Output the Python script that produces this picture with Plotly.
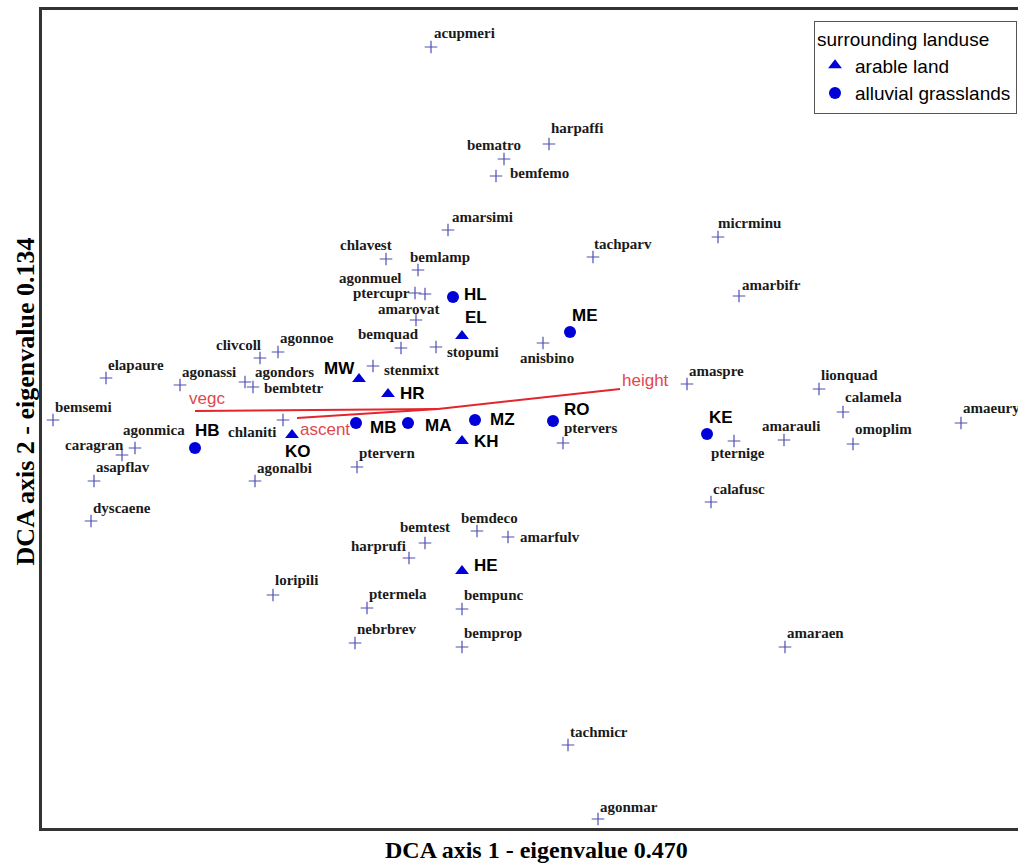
import plotly.graph_objects as go

# ---------------- data (DCA scores, x100 units) ----------------
species = ["acupmeri", "harpaffi", "bematro", "bemfemo", "amarsimi", "chlavest", "bemlamp",
           "tachparv", "micrminu", "amarbifr", "agonmuel", "ptercupr", "amarovat", "bemquad",
           "stopumi", "agonnoe", "clivcoll", "agonassi", "agondors", "bembtetr", "stenmixt",
           "chlaniti", "elapaure", "bemsemi", "agonmica", "caragran", "asapflav", "dyscaene",
           "agonalbi", "loripili", "anisbino", "ptervern", "ptervers", "bemtest", "bemdeco",
           "amarfulv", "harprufi", "ptermela", "bempunc", "nebrbrev", "bemprop", "tachmicr",
           "agonmar", "amaraen", "amaspre", "lionquad", "calamela", "amaeury", "pternige",
           "amarauli", "omoplim", "calafusc"]
species_x = [389, 507, 462, 454, 406, 344, 376, 551, 676, 697, 383, 373, 374, 359,
             394, 236, 218, 138, 203, 211, 331, 241, 64, 11, 93, 80, 52, 49,
             213, 231, 501, 315, 521, 383, 435, 466, 367, 325, 420, 313, 420, 526,
             556, 743, 645, 777, 801, 919, 692, 742, 811, 669]
species_y = [781, 684, 669, 652, 598, 569, 558, 571, 591, 532, 534, 535, 508, 480,
             481, 476, 470, 443, 446, 441, 462, 408, 450, 408, 380, 373, 347, 307,
             347, 233, 485, 361, 385, 285, 297, 291, 270, 220, 219, 185, 181, 83,
             9, 181, 444, 439, 416, 405, 387, 388, 384, 326]

sites = ["HL", "EL", "ME", "MW", "HR", "MB", "MA", "MZ", "KH", "RO", "HB", "KO", "HE", "KE"]
site_x = [411, 420, 528, 317, 346, 314, 366, 433, 420, 511, 153, 250, 420, 665]
site_y = [531, 492, 496, 449, 434, 405, 405, 408, 387, 407, 380, 393, 257, 394]
site_landuse = ["alluvial grasslands", "arable land", "alluvial grasslands", "arable land",
                "arable land", "alluvial grasslands", "alluvial grasslands",
                "alluvial grasslands", "arable land", "alluvial grasslands",
                "alluvial grasslands", "arable land", "arable land", "alluvial grasslands"]

env_vars = ["vegc", "height", "ascent"]
env_origin = (396, 419)
env_x = [153, 578, 255]
env_y = [417, 439, 410]

x_title = "DCA axis 1 - eigenvalue 0.470"
y_title = "DCA axis 2 - eigenvalue 0.134"
legend_title = "surrounding landuse"
landuse_classes = ["arable land", "alluvial grasslands"]

# ---------------- label placement (styling: anchor, x shift px, y shift px) ----------------
species_label_pos = [
    ("left", 1, 14), ("left", 0, 16), ("center", -10, 14), ("left", 12, 3), ("left", 2, 13),
    ("center", -20, 14), ("left", -10, 13), ("left", -1, 13), ("left", -2, 14), ("left", 1, 11),
    ("center", -55, 16), ("right", -3, 0), ("center", -8, 11), ("center", -13, 14),
    ("left", 9, -5), ("left", 0, 14), ("center", -22, 13), ("left", 0, 13), ("left", 8, 10),
    ("left", 9, -1), ("left", 9, -4), ("right", -5, -12), ("left", 0, 13), ("left", 0, 13),
    ("left", -14, 18), ("center", -28, 10), ("left", 0, 14), ("left", 0, 13), ("left", 0, 13),
    ("left", 0, 15), ("center", 4, -15), ("left", 0, 14), ("left", -1, 15), ("center", 0, 16),
    ("center", 12, 13), ("left", 10, 0), ("center", -31, 12), ("left", 0, 14), ("left", 0, 14),
    ("left", 0, 14), ("left", 0, 14), ("left", 0, 13), ("left", 0, 12), ("left", 0, 14),
    ("left", 0, 13), ("left", 0, 14), ("left", 0, 15), ("left", 0, 15), ("center", 4, -12),
    ("center", 7, 14), ("left", 0, 15), ("left", 0, 13)]
site_label_pos = [
    ("left", 9, 3), ("left", 1, 19), ("left", 0, 17), ("right", -2, 11), ("left", 10, 1),
    ("left", 12, -4), ("left", 15, -2), ("left", 13, 1), ("left", 10, 0), ("left", 9, 12),
    ("left", -2, 18), ("left", -9, -16), ("left", 10, 6), ("left", 0, 17)]
env_label_pos = [("left", -8, 13), ("left", 0, 9), ("left", 1, -11)]

fig = go.Figure()

# environmental vectors
for name, ex, ey in zip(env_vars, env_x, env_y):
    fig.add_trace(go.Scatter(x=[env_origin[0], ex], y=[env_origin[1], ey], mode="lines",
                             line=dict(color="#e3262e", width=2), showlegend=False,
                             hoverinfo="skip"))

# species
fig.add_trace(go.Scatter(x=species_x, y=species_y, mode="markers", text=species,
                         marker=dict(symbol="cross-thin", size=9,
                                     line=dict(color="#4f4fb5", width=1.2)),
                         showlegend=False))

# sites by landuse
symbols = {"arable land": "triangle-up", "alluvial grasslands": "circle"}
for cls in landuse_classes:
    xs = [x for x, c in zip(site_x, site_landuse) if c == cls]
    ys = [y for y, c in zip(site_y, site_landuse) if c == cls]
    nm = [s for s, c in zip(sites, site_landuse) if c == cls]
    fig.add_trace(go.Scatter(x=xs, y=ys, mode="markers", name=cls, text=nm,
                             marker=dict(symbol=symbols[cls], size=12, color="#0000d8",
                                         line=dict(width=0))))

ann = []
for name, x, y, (anc, dx, dy) in zip(species, species_x, species_y, species_label_pos):
    ann.append(dict(x=x, y=y, text=name, showarrow=False, xanchor=anc, yanchor="middle",
                    xshift=dx, yshift=dy,
                    font=dict(family="Liberation Serif", size=15, color="#1a1a1a",
                              weight="bold")))
for name, x, y, (anc, dx, dy) in zip(sites, site_x, site_y, site_label_pos):
    ann.append(dict(x=x, y=y, text=name, showarrow=False, xanchor=anc, yanchor="middle",
                    xshift=dx, yshift=dy,
                    font=dict(family="Liberation Sans", size=17, color="#000000",
                              weight="bold")))
for name, x, y, (anc, dx, dy) in zip(env_vars, env_x, env_y, env_label_pos):
    ann.append(dict(x=x, y=y, text=name, showarrow=False, xanchor=anc, yanchor="middle",
                    xshift=dx, yshift=dy,
                    font=dict(family="Liberation Sans", size=17, color="#e0474f")))

ann.append(dict(xref="paper", yref="paper", x=0.507, y=-0.027, text=x_title,
                showarrow=False, xanchor="center", yanchor="middle",
                font=dict(family="Liberation Serif", size=24, color="#000000", weight="bold")))
ann.append(dict(xref="paper", yref="paper", x=-0.017, y=0.522, text=y_title,
                showarrow=False, xanchor="center", yanchor="middle", textangle=-90,
                font=dict(family="Liberation Serif", size=26, color="#000000", weight="bold")))

fig.update_layout(
    width=1018, height=863,
    margin=dict(l=42, r=0, t=10, b=35),
    paper_bgcolor="white", plot_bgcolor="white",
    xaxis=dict(range=[0, 976], showgrid=False, zeroline=False, showticklabels=False,
               ticks="", showline=True, linecolor="#333333", linewidth=3, mirror=True),
    yaxis=dict(range=[0, 818], showgrid=False, zeroline=False, showticklabels=False,
               ticks="", showline=True, linecolor="#333333", linewidth=3, mirror=False),
    legend=dict(title=dict(text=legend_title,
                           font=dict(family="Liberation Sans", size=19, color="#000")),
                font=dict(family="Liberation Sans", size=19, color="#000"),
                x=0.999, xanchor="right", y=0.987, yanchor="top",
                bordercolor="#555555", borderwidth=1, bgcolor="white",
                itemwidth=30, tracegroupgap=0),
    annotations=ann,
    showlegend=True,
)

# remove the default 8px page margin so the figure fills the window exactly
fig.write_html("out.html",
               config={"displayModeBar": False},
               post_script="document.body.style.margin='0';document.body.style.overflow='hidden';")
